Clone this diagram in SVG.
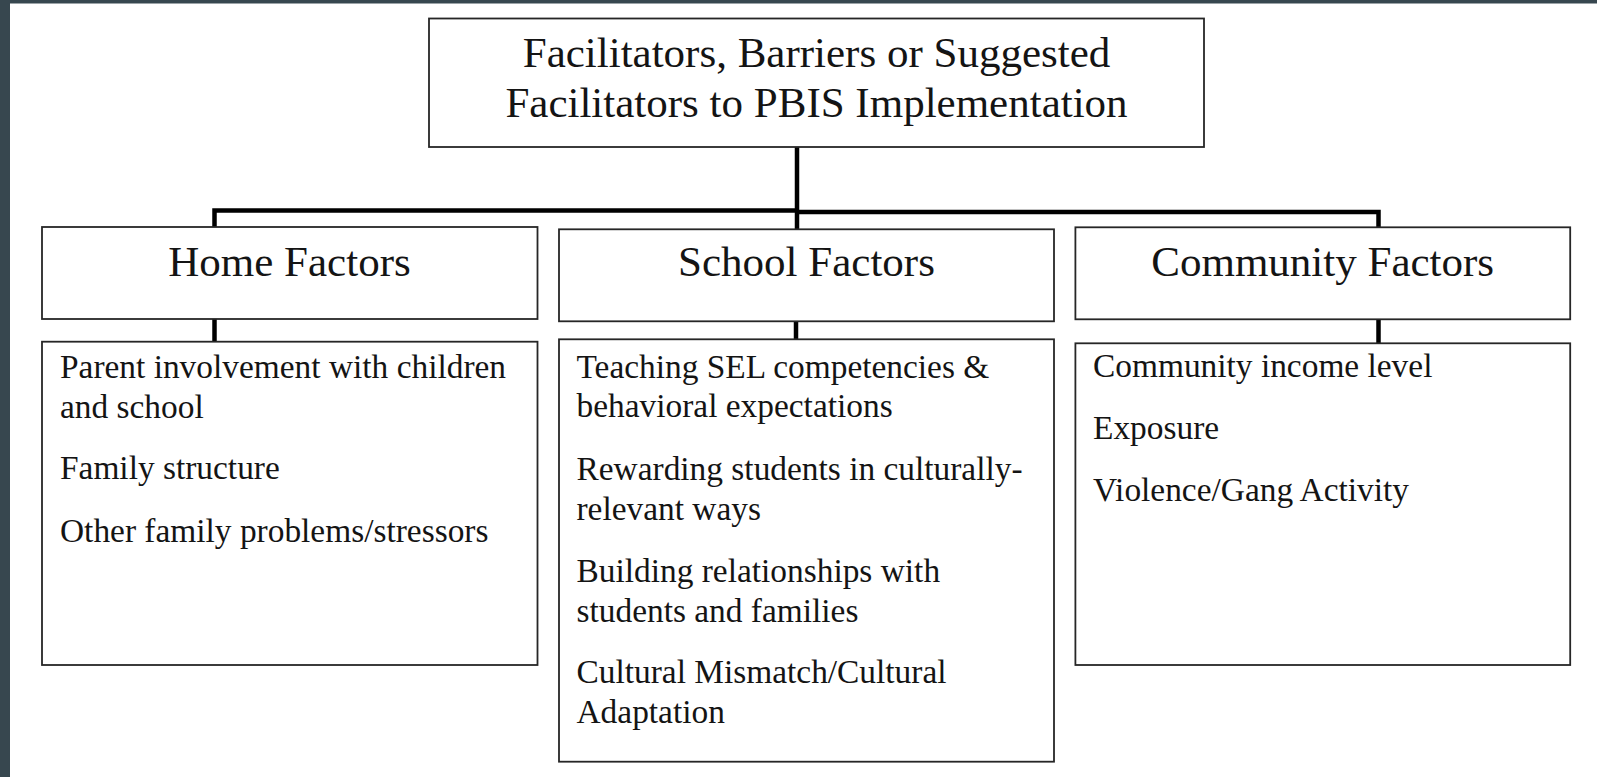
<svg xmlns="http://www.w3.org/2000/svg" width="1597" height="777" viewBox="0 0 1597 777">
<style>
.box{fill:#ffffff;stroke:#262626;stroke-width:1.8}
.conn{fill:none;stroke:#000000;stroke-width:4.5;stroke-linejoin:miter}
.title{font-family:"Liberation Serif","Times New Roman",serif;font-size:43px;fill:#141414;text-anchor:middle}
.body{font-family:"Liberation Serif","Times New Roman",serif;font-size:33.4px;fill:#141414}
</style>
<rect x="0" y="0" width="1597" height="777" fill="#37474f"/>
<rect x="10" y="3.5" width="1587" height="773.5" fill="#ffffff"/>
<g id="connectors">
<polyline class="conn" points="797,147 797,229"/>
<polyline class="conn" points="214.5,228 214.5,210.5 797,210.5"/>
<polyline class="conn" points="797,212 1378.5,212 1378.5,228"/>
<line class="conn" x1="214.5" y1="319" x2="214.5" y2="342"/>
<line class="conn" x1="796" y1="321" x2="796" y2="339"/>
<line class="conn" x1="1378.5" y1="319" x2="1378.5" y2="343"/>
</g>
<g id="root">
<rect class="box" x="429" y="18.5" width="775" height="128.5"/>
<text class="title" x="816.5" y="66.7">Facilitators, Barriers or Suggested</text>
<text class="title" x="816.5" y="116.7">Facilitators to PBIS Implementation</text>
</g>
<g id="home-header">
<rect class="box" x="42" y="227" width="495.5" height="92"/>
<text class="title" x="289.5" y="276">Home Factors</text>
</g>
<g id="school-header">
<rect class="box" x="559" y="229.3" width="495" height="92"/>
<text class="title" x="806.5" y="276">School Factors</text>
</g>
<g id="community-header">
<rect class="box" x="1075.4" y="227.3" width="494.8" height="92"/>
<text class="title" x="1322.7" y="276">Community Factors</text>
</g>
<g id="home-content">
<rect class="box" x="42" y="341.7" width="495.5" height="323.3"/>
<text class="body" x="60" y="377.5">Parent involvement with children</text>
<text class="body" x="60" y="418">and school</text>
<text class="body" x="60" y="479">Family structure</text>
<text class="body" x="60" y="541.5">Other family problems/stressors</text>
</g>
<g id="school-content">
<rect class="box" x="559" y="339.3" width="495" height="422.4"/>
<text class="body" x="576.5" y="377.5">Teaching SEL competencies &amp;</text>
<text class="body" x="576.5" y="417">behavioral expectations</text>
<text class="body" x="576.5" y="479.5">Rewarding students in culturally-</text>
<text class="body" x="576.5" y="520">relevant ways</text>
<text class="body" x="576.5" y="581.5">Building relationships with</text>
<text class="body" x="576.5" y="621.5">students and families</text>
<text class="body" x="576.5" y="683">Cultural Mismatch/Cultural</text>
<text class="body" x="576.5" y="723">Adaptation</text>
</g>
<g id="community-content">
<rect class="box" x="1075.4" y="343.3" width="494.8" height="321.7"/>
<text class="body" x="1093" y="377">Community income level</text>
<text class="body" x="1093" y="439">Exposure</text>
<text class="body" x="1093" y="501">Violence/Gang Activity</text>
</g>
</svg>
